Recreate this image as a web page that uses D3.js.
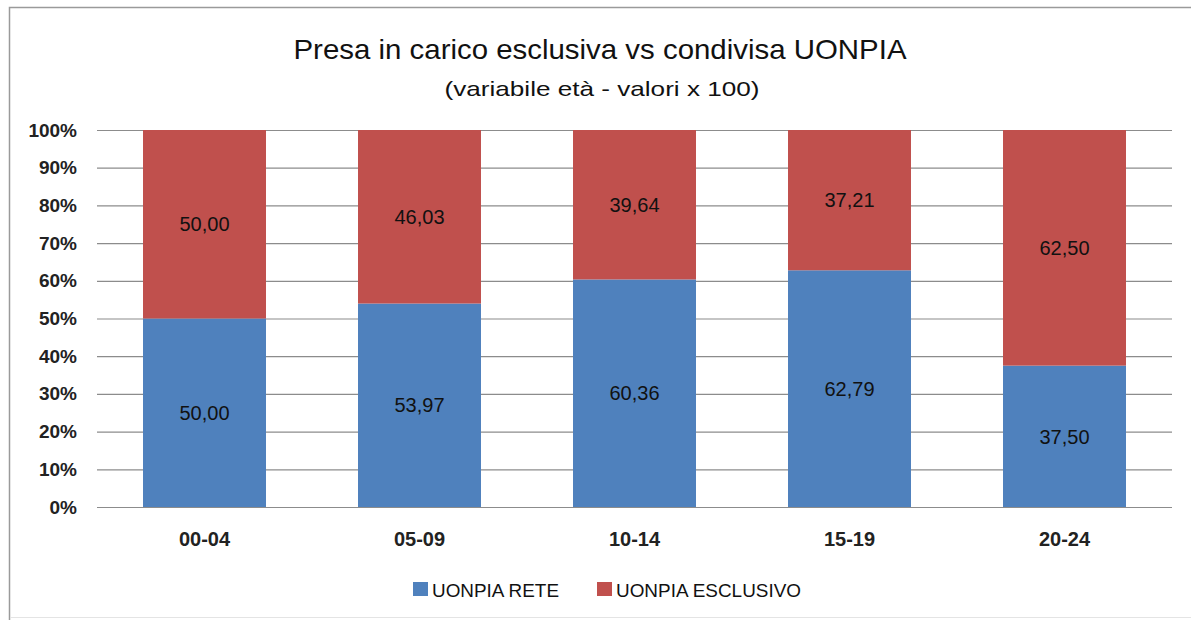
<!DOCTYPE html>
<html><head><meta charset="utf-8">
<script src="https://cdn.jsdelivr.net/npm/d3@7"></script>
<style>body{margin:0;background:#fff}svg{display:block}text{font-family:"Liberation Sans",Arial,sans-serif}</style>
</head><body><svg id="c" width="1191" height="620"></svg>
<script>
const categories = ["00-04","05-09","10-14","15-19","20-24"];
const rete = [50.00, 53.97, 60.36, 62.79, 37.50];
const esclusivo = [50.00, 46.03, 39.64, 37.21, 62.50];
const seriesNames = ["UONPIA RETE","UONPIA ESCLUSIVO"];
const seriesColors = ["#4F81BD","#C0504D"];
const yTicks = [0,10,20,30,40,50,60,70,80,90,100];

const svg = d3.select("#c");
// chart frame
svg.append("path").attr("d","M9.5,620 L9.5,7.5 L1191,7.5").attr("fill","none").attr("stroke","#9a9a9a").attr("stroke-width",1.5);
svg.append("line").attr("x1",10).attr("x2",1191).attr("y1",617.5).attr("y2",617.5).attr("stroke","#e4e4e4").attr("stroke-width",1);

const x = d3.scaleBand().domain(categories).range([97,1172]).paddingInner(0.428).paddingOuter(0.214);
const y = d3.scaleLinear().domain([0,100]).range([507,130]);

// gridlines
svg.append("g").selectAll("line").data(yTicks).join("line")
  .attr("x1",97).attr("x2",1172).attr("y1",d=>y(d)+0.5).attr("y2",d=>y(d)+0.5)
  .attr("stroke","#8c8c8c").attr("stroke-width",1.2);

// y axis labels
const yAxis = d3.axisLeft(y).tickValues(yTicks).tickFormat(d=>d+"%").tickSize(0).tickPadding(0);
const ga = svg.append("g").attr("transform","translate(77,0)").call(yAxis);
ga.select(".domain").remove();
ga.selectAll("text").attr("font-size",19).attr("font-weight","bold").attr("fill","#222").attr("font-family","'Liberation Sans',Arial,sans-serif");

// stacked data
const data = categories.map((c,i)=>({cat:c, rete:rete[i], esclusivo:esclusivo[i]}));
const stack = d3.stack().keys(["rete","esclusivo"])(data);
svg.append("g").selectAll("g").data(stack).join("g").attr("fill",(d,i)=>seriesColors[i])
  .selectAll("rect").data(d=>d).join("rect")
  .attr("x",d=>x(d.data.cat)).attr("width",x.bandwidth())
  .attr("y",d=>y(d[1])).attr("height",d=>y(d[0])-y(d[1]));

// data labels
svg.append("g").selectAll("g").data(stack).join("g")
  .selectAll("text").data(d=>d).join("text")
  .attr("x",d=>x(d.data.cat)+x.bandwidth()/2)
  .attr("y",d=>(y(d[0])+y(d[1]))/2)
  .attr("dy","0.36em").attr("text-anchor","middle").attr("font-size",20).attr("fill","#111")
  .text(d=>(d[1]-d[0]).toFixed(2).replace(".",","));

// x axis labels
const xAxis = d3.axisBottom(x).tickSize(0).tickPadding(0);
const gx = svg.append("g").attr("transform","translate(0,532)").call(xAxis);
gx.select(".domain").remove();
gx.selectAll("text").attr("font-size",20).attr("font-weight","bold").attr("fill","#222").attr("font-family","'Liberation Sans',Arial,sans-serif");

// title
svg.append("text").attr("x",600).attr("y",59).attr("text-anchor","middle").attr("font-size",28).attr("fill","#111")
  .attr("textLength",613).attr("lengthAdjust","spacingAndGlyphs")
  .text("Presa in carico esclusiva vs condivisa UONPIA");
svg.append("text").attr("x",602).attr("y",96).attr("text-anchor","middle").attr("font-size",21).attr("fill","#111")
  .attr("textLength",315).attr("lengthAdjust","spacingAndGlyphs")
  .text("(variabile età - valori x 100)");

// legend
const legX = [413, 597];
const legW = [127, 185];
const lg = svg.append("g");
seriesNames.forEach((n,i)=>{
  lg.append("rect").attr("x",legX[i]).attr("y",582).attr("width",15).attr("height",14).attr("fill",seriesColors[i]);
  lg.append("text").attr("x",legX[i]+19).attr("y",597).attr("font-size",19).attr("fill","#111")
    .attr("textLength",legW[i]).attr("lengthAdjust","spacingAndGlyphs").text(n);
});
</script></body></html>
